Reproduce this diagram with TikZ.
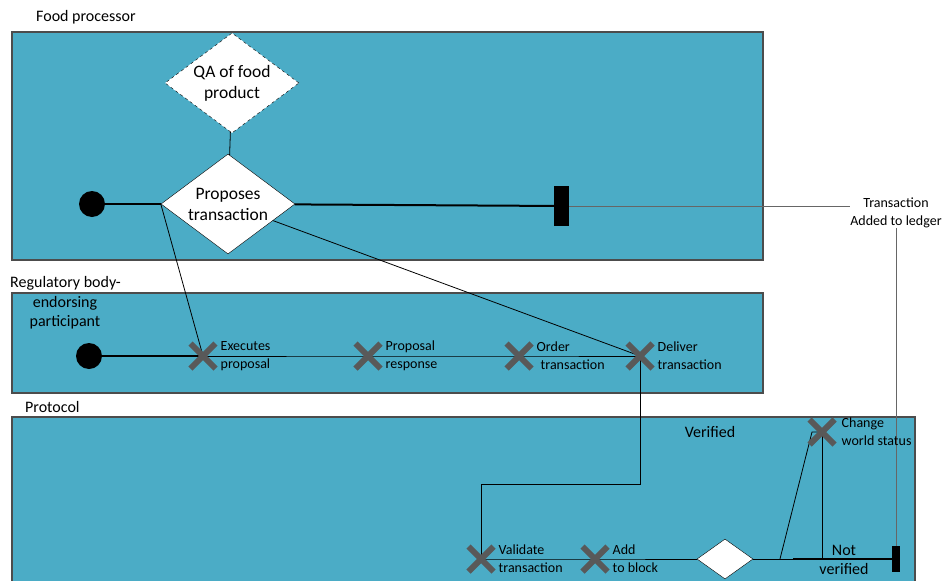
\documentclass[tikz,border=0pt]{standalone}
\usepackage{fontspec}
\setmainfont{Carlito}
\usetikzlibrary{%
        positioning,
        shapes.geometric,
        shapes.misc
    }
\definecolor{lane}{RGB}{75, 172, 198}
\definecolor{marker}{RGB}{89, 89, 89}
\pgfdeclarelayer{background}
\pgfdeclarelayer{wires}
\pgfsetlayers{background,wires,main}
\tikzset{%
    pool/.style={draw=black!70, fill=lane, line width=1.2pt},
    poolname/.style={inner sep=0pt, font=\fontsize{16}{19}\selectfont},
    gate/.style={diamond, draw, fill=white, align=center, inner sep=0pt,
        shape aspect=1.34, minimum width=134pt, minimum height=100pt,
        font=\fontsize{17.5}{21}\selectfont},
    decision/.style={diamond, draw, fill=white, inner sep=0pt,
        shape aspect=1.4, minimum width=56pt, minimum height=40pt},
    startdot/.style={circle, fill=black, minimum size=26pt, inner sep=0pt},
    endbar/.style={rectangle, fill=black, inner sep=0pt},
    task/.style={cross out, draw=marker, line width=6pt, minimum size=19pt,
        inner sep=0pt},
    tasktext/.style={align=left, inner sep=0pt, font=\fontsize{14}{18}\selectfont},
    flow/.style={line width=0.8pt},
    boldflow/.style={line width=2pt},
    guide/.style={draw=black!60, line width=1pt}
}

\begin{document}
\begin{tikzpicture}[x=1pt, y=-1pt]
    \useasboundingbox (0, 0) rectangle (943, 581);

    % Pools
    \begin{pgfonlayer}{background}
        \draw[pool] (12, 32) rectangle (763, 260);
        \draw[pool] (12, 293) rectangle (763, 393);
        \draw[pool] (12, 417) rectangle (915, 600);
    \end{pgfonlayer}

    \node[poolname, anchor=west] (fpname) at (36, 17) {Food processor};
    \node[poolname, anchor=west] (rbname) at (10, 283) {Regulatory body-};
    \node[poolname, align=center] (rbrole) at (65, 313) {endorsing\\participant};
    \node[poolname, anchor=west] (prname) at (25, 407) {Protocol};

    % Food processor
    \node[startdot] (fpstart) at (92, 204) {};
    \node[gate, dashed] (qa) at (232, 83) {QA of food\\product};
    \node[gate] (propose) at (228, 204) {Proposes\\transaction};
    \node[endbar, minimum width=15pt, minimum height=40pt] (fpend) at (561.5, 206) {};
    \node[tasktext, align=center] (ledger) at (896, 213) {Transaction\\Added to ledger};

    % Regulatory body
    \node[startdot] (rbstart) at (89, 356) {};
    \node[task] (execute) at (203, 356) {};
    \node[task] (response) at (368, 356) {};
    \node[task] (order) at (519, 356) {};
    \node[task] (deliver) at (640, 356) {};

    \node[tasktext, right=5pt of execute] (executetext) {Executes\\proposal};
    \node[tasktext, right=5pt of response] (responsetext) {Proposal\\response};
    \node[tasktext, right=5pt of order] (ordertext) {Order\\\hspace*{4pt}transaction};
    \node[tasktext, right=5pt of deliver] (delivertext) {Deliver\\transaction};

    % Protocol
    \node[task] (validate) at (481, 559) {};
    \node[task] (addblock) at (595, 559) {};
    \node[decision] (check) at (725, 559) {};
    \node[task] (change) at (822, 432) {};
    \node[endbar, minimum width=8pt, minimum height=26pt] (prend) at (896, 559) {};

    \node[tasktext, right=5pt of validate] (validatetext) {Validate\\transaction};
    \node[tasktext, right=5pt of addblock] (addblocktext) {Add\\to block};
    \node[tasktext, right=7pt of change] (changetext) {Change\\world status};
    \node[poolname] (verified) at (710, 432) {Verified};
    \node[poolname, align=center] (notverified) at (844, 560) {Not\\verified};

    \coordinate (turn) at (481, 484);
    \coordinate (fork) at (780, 559);
    \coordinate (kink) at (812, 432);
    \coordinate (notv) at (793, 559);

    % Connectors
    \begin{pgfonlayer}{wires}
        \draw[boldflow] (fpstart) -- (propose);
        \draw[boldflow] (propose) -- (fpend);
        \draw[guide] (fpend) -- (fpend -| ledger.west);
        \draw[flow] (qa) -- (propose);
        \draw[flow] (propose.west) -- (execute.center);
        \draw[flow] (propose.center) -- (deliver.center);

        \draw[boldflow] (rbstart) -- (execute.center);
        \draw[flow] (execute.center) -- (response.center) -- (order.center)
            -- (deliver.center);

        \draw[flow] (deliver.center) |- (turn) -- (validate.center);
        \draw[flow] (validate.center) -- (addblock.center) -- (check);
        \draw[flow] (check) -- (prend);
        \draw[flow] (fork) -- (kink) -- (change.center);
        \draw[flow] (change.center) -- (change |- prend);
        \draw[boldflow, line width=1.6pt] (notv) -- (prend);
        \draw[guide] (ledger.south) -- (prend);
    \end{pgfonlayer}

\end{tikzpicture}
\end{document}
